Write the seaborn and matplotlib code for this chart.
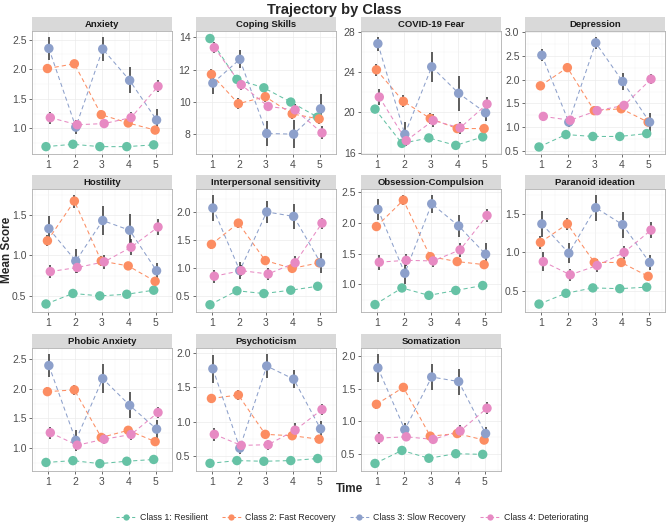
import numpy as np
import pandas as pd
import matplotlib
matplotlib.use("Agg")
import matplotlib.pyplot as plt
import seaborn as sns
from matplotlib.lines import Line2D
from matplotlib.ticker import MultipleLocator, FormatStrFormatter

measures = ["Anxiety", "Coping Skills", "COVID-19 Fear", "Depression",
            "Hostility", "Interpersonal sensitivity", "Obsession-Compulsion",
            "Paranoid ideation", "Phobic Anxiety", "Psychoticism", "Somatization"]
classes = ["Class 1: Resilient", "Class 2: Fast Recovery",
           "Class 3: Slow Recovery", "Class 4: Deteriorating"]
times = [1, 2, 3, 4, 5]
y_steps = [0.5, 2, 4, 0.5, 0.5, 0.5, 0.5, 0.5, 0.5, 0.5, 0.5]

# mean score per measure (rows) and time (cols)
resilient_mean = [
    [0.69, 0.73, 0.69, 0.69, 0.72],
    [13.92, 11.40, 10.88, 10.00, 9.07],
    [20.33, 16.93, 17.47, 16.73, 17.57],
    [0.59, 0.85, 0.81, 0.81, 0.87],
    [0.40, 0.53, 0.50, 0.52, 0.57],
    [0.35, 0.60, 0.55, 0.61, 0.68],
    [0.67, 0.94, 0.82, 0.90, 0.98],
    [0.33, 0.47, 0.54, 0.53, 0.55],
    [0.76, 0.79, 0.74, 0.78, 0.81],
    [0.40, 0.44, 0.43, 0.44, 0.47],
    [0.35, 0.55, 0.43, 0.50, 0.49],
]
fast_mean = [
    [2.01, 2.09, 1.23, 1.09, 0.97],
    [11.71, 9.90, 10.33, 9.27, 8.96],
    [24.23, 21.10, 19.40, 18.40, 18.40],
    [1.87, 2.25, 1.35, 1.39, 1.11],
    [1.18, 1.67, 0.93, 0.87, 0.68],
    [1.43, 1.81, 1.14, 1.00, 1.10],
    [1.94, 2.37, 1.45, 1.37, 1.32],
    [1.13, 1.37, 0.87, 0.87, 0.69],
    [1.95, 1.98, 1.18, 1.30, 1.11],
    [1.34, 1.39, 0.82, 0.80, 0.75],
    [1.26, 1.52, 0.77, 0.81, 0.71],
]
slow_mean = [
    [2.35, 1.02, 2.34, 1.81, 1.14],
    [11.17, 12.64, 8.06, 8.02, 9.58],
    [26.83, 17.83, 24.53, 21.90, 19.97],
    [2.51, 1.11, 2.77, 1.96, 1.11],
    [1.33, 0.93, 1.43, 1.31, 0.81],
    [2.08, 0.96, 2.01, 1.93, 1.10],
    [2.22, 1.18, 2.31, 1.95, 1.49],
    [1.37, 0.99, 1.58, 1.36, 0.87],
    [2.39, 1.13, 2.17, 1.72, 1.32],
    [1.77, 0.62, 1.81, 1.62, 0.90],
    [1.82, 0.87, 1.68, 1.61, 0.81],
]
deter_mean = [
    [1.18, 1.06, 1.08, 1.18, 1.71],
    [13.36, 11.07, 9.73, 9.52, 8.10],
    [21.53, 17.20, 19.20, 18.47, 20.83],
    [1.23, 1.15, 1.35, 1.46, 2.01],
    [0.80, 0.85, 0.92, 1.10, 1.35],
    [0.86, 0.96, 0.90, 1.10, 1.81],
    [1.36, 1.39, 1.38, 1.56, 2.12],
    [0.88, 0.71, 0.83, 1.00, 1.29],
    [1.26, 1.05, 1.15, 1.23, 1.60],
    [0.82, 0.66, 0.67, 0.88, 1.18],
    [0.74, 0.76, 0.72, 0.85, 1.20],
]

# half-length of the error bars
resilient_se = [
    [0.03] * 5, [0.12] * 5, [0.3] * 5, [0.03] * 5, [0.03] * 5, [0.03] * 5,
    [0.03] * 5, [0.03] * 5, [0.03] * 5, [0.03] * 5, [0.03] * 5,
]
fast_se = [
    [0.07, 0.07, 0.07, 0.06, 0.05],
    [0.35, 0.35, 0.30, 0.30, 0.30],
    [0.60, 0.60, 0.50, 0.40, 0.40],
    [0.07, 0.08, 0.06, 0.06, 0.06],
    [0.07, 0.08, 0.06, 0.05, 0.05],
    [0.08, 0.08, 0.06, 0.05, 0.05],
    [0.08, 0.08, 0.07, 0.06, 0.06],
    [0.08, 0.08, 0.06, 0.06, 0.05],
    [0.08, 0.08, 0.07, 0.07, 0.06],
    [0.07, 0.07, 0.06, 0.06, 0.05],
    [0.07, 0.07, 0.06, 0.06, 0.05],
]
slow_se = [
    [0.20, 0.12, 0.20, 0.22, 0.19],
    [0.65, 0.55, 0.75, 0.88, 0.90],
    [0.70, 1.20, 1.50, 1.75, 0.80],
    [0.12, 0.10, 0.13, 0.18, 0.20],
    [0.15, 0.15, 0.18, 0.20, 0.10],
    [0.24, 0.15, 0.20, 0.23, 0.18],
    [0.17, 0.18, 0.15, 0.18, 0.18],
    [0.17, 0.13, 0.17, 0.17, 0.10],
    [0.20, 0.17, 0.24, 0.22, 0.16],
    [0.20, 0.08, 0.18, 0.13, 0.12],
    [0.22, 0.10, 0.20, 0.20, 0.10],
]
deter_se = [
    [0.10, 0.06, 0.07, 0.10, 0.10],
    [0.35, 0.30, 0.30, 0.35, 0.40],
    [0.80, 0.50, 0.60, 0.60, 0.70],
    [0.10, 0.07, 0.07, 0.10, 0.10],
    [0.08, 0.07, 0.09, 0.10, 0.10],
    [0.12, 0.10, 0.10, 0.12, 0.10],
    [0.12, 0.10, 0.10, 0.12, 0.10],
    [0.12, 0.08, 0.09, 0.08, 0.10],
    [0.10, 0.07, 0.08, 0.10, 0.10],
    [0.09, 0.07, 0.07, 0.10, 0.08],
    [0.09, 0.07, 0.07, 0.09, 0.09],
]

palette = dict(zip(classes, ["#66C2A5", "#FC8D62", "#8DA0CB", "#E78AC3"]))

rows = []
for ci, (cls, means, ses) in enumerate(zip(
        classes,
        [resilient_mean, fast_mean, slow_mean, deter_mean],
        [resilient_se, fast_se, slow_se, deter_se])):
    for mi, m in enumerate(measures):
        for ti, t in enumerate(times):
            rows.append({"measure": m, "cls": cls, "ci": ci, "time": t,
                         "mean": means[mi][ti], "se": ses[mi][ti]})
df = pd.DataFrame(rows)
# small dodge between classes
dodge = 0.16
df["xpos"] = df["time"] + (df["ci"] - 1.5) * dodge / 3

sns.set_style("white")
plt.rcParams["font.family"] = ["Liberation Sans", "DejaVu Sans"]

W, H = 669, 528
fig = plt.figure(figsize=(W / 100, H / 100), dpi=100)

col_left = [32, 196, 361, 525]
row_top = [31, 189, 348]
pw, ph, sh = 140, 123, 14

for i, m in enumerate(measures):
    r, c = divmod(i, 4)
    x0, y0 = col_left[c], row_top[r]
    ax = fig.add_axes([x0 / W, 1 - (y0 + ph) / H, pw / W, ph / H])
    sax = fig.add_axes([x0 / W, 1 - y0 / H, pw / W, sh / H])
    sax.set_facecolor("#D9D9D9")
    sax.set_xticks([]); sax.set_yticks([])
    for s in sax.spines.values():
        s.set_visible(False)
    sax.text(0.5, 0.45, m, ha="center", va="center", fontsize=6.8,
             fontweight="bold", color="#1A1A1A", transform=sax.transAxes)

    sub = df[df["measure"] == m].sort_values(["ci", "time"])
    sns.lineplot(data=sub, x="xpos", y="mean", hue="cls", palette=palette,
                 estimator=None, sort=True, legend=False, ax=ax,
                 linewidth=0.75, linestyle=(0, (4, 3)), zorder=2)
    for cls in classes:
        g = sub[sub["cls"] == cls]
        ax.errorbar(g["xpos"], g["mean"], yerr=g["se"], fmt="none",
                    ecolor="#333333", elinewidth=1.1, capsize=0, zorder=3)
    sns.scatterplot(data=sub, x="xpos", y="mean", hue="cls", palette=palette,
                    s=46, linewidth=0, legend=False, ax=ax, zorder=4)

    lo = (sub["mean"] - sub["se"]).min()
    hi = (sub["mean"] + sub["se"]).max()
    pad = (hi - lo) * 0.05
    ax.set_ylim(lo - pad, hi + pad)
    ax.set_xlim(0.4, 5.6)
    ax.set_xticks(times)
    ax.set_xticklabels([str(t) for t in times])
    ax.yaxis.set_major_locator(MultipleLocator(y_steps[i]))
    ax.yaxis.set_major_formatter(FormatStrFormatter("%d" if y_steps[i] >= 1 else "%.1f"))
    ax.yaxis.set_minor_locator(MultipleLocator(y_steps[i] / 2))
    ax.xaxis.set_minor_locator(MultipleLocator(0.5))
    ax.grid(True, which="major", color="#EBEBEB", linewidth=0.5, zorder=0)
    ax.grid(True, which="minor", color="#F2F2F2", linewidth=0.3, zorder=0)
    ax.set_axisbelow(True)
    ax.set_xlabel(""); ax.set_ylabel("")
    ax.tick_params(axis="both", which="major", labelsize=7.5, labelcolor="#4D4D4D",
                   color="#333333", length=2.5, width=0.5, pad=1.5, bottom=True, left=True)
    ax.tick_params(which="minor", length=0)
    for s in ax.spines.values():
        s.set_color("#B0B0B0")
        s.set_linewidth(0.6)

fig.text(0.5, 1 - 10 / H, "Trajectory by Class", ha="center", va="center",
         fontsize=10.5, fontweight="bold")
fig.text(350 / W, 1 - 489 / H, "Time", ha="center", va="center",
         fontsize=8.5, fontweight="bold")
fig.text(7 / W, 1 - 250 / H, "Mean Score", ha="center", va="center",
         rotation=90, fontsize=8.5, fontweight="bold")

handles = [Line2D([0], [0], color=palette[c], marker="o", markersize=4.5,
                  linestyle=(0, (3, 2)), linewidth=0.75, markeredgewidth=0)
           for c in classes]
fig.legend(handles, classes, loc="center", bbox_to_anchor=(352 / W, 1 - 518 / H),
           ncol=4, frameon=False, fontsize=6.3, handlelength=2.2,
           columnspacing=1.6, handletextpad=0.5)

fig.savefig("out.png", dpi=100)
